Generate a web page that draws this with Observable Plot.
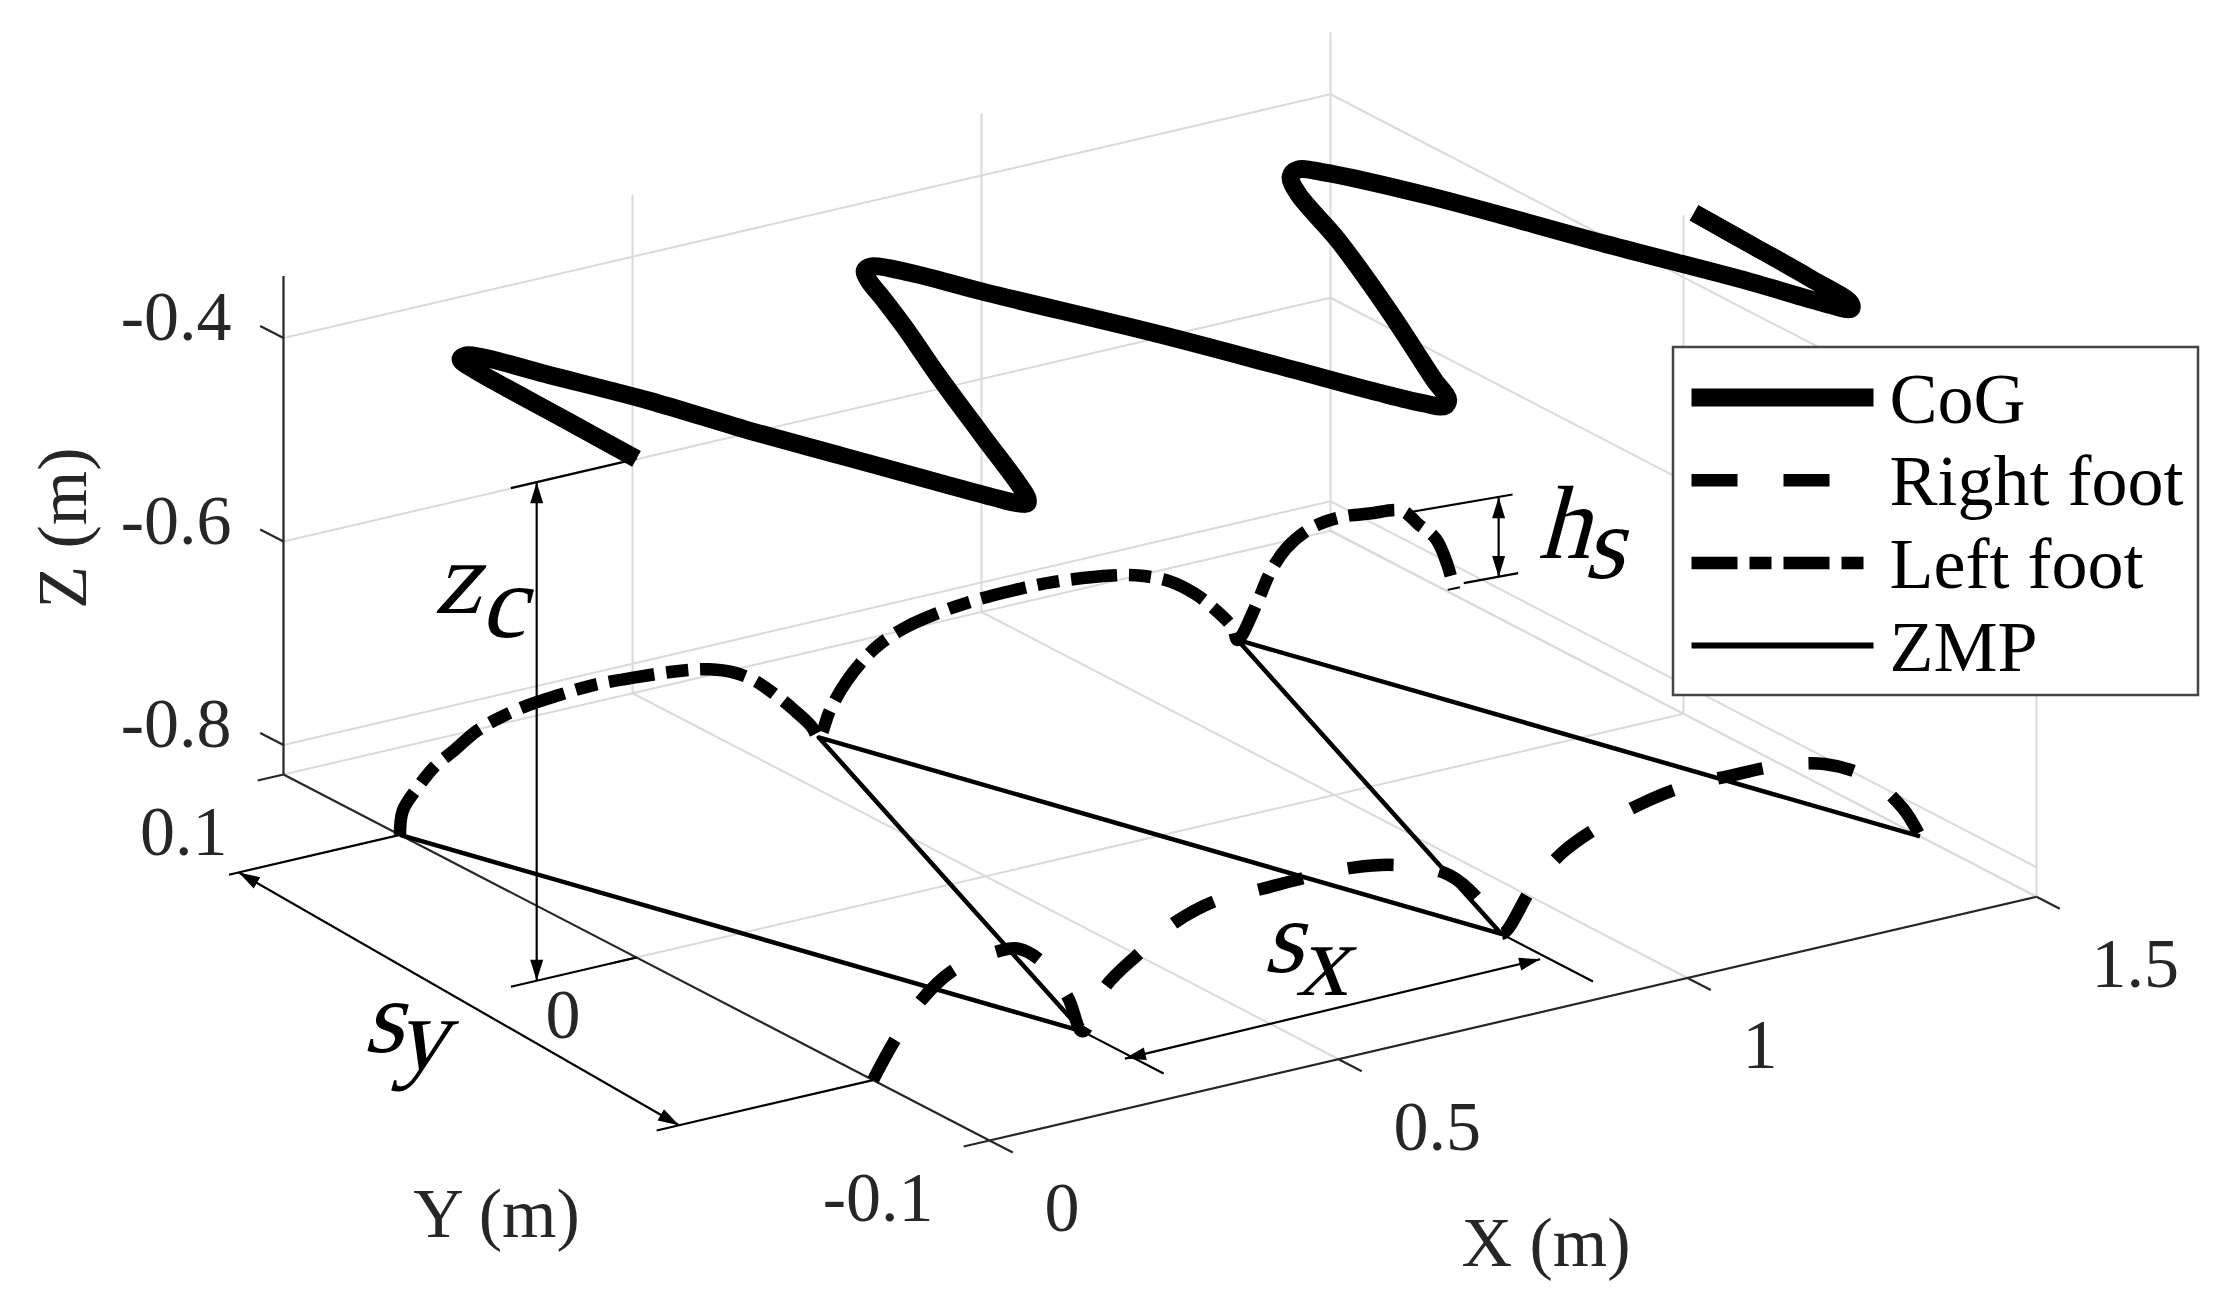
<!DOCTYPE html>
<html>
<head>
<meta charset="utf-8">
<script src="https://cdn.jsdelivr.net/npm/d3@7"></script>
<script src="https://cdn.jsdelivr.net/npm/@observablehq/plot@0.6"></script>
<style>
html, body { margin: 0; padding: 0; background: #fff; }
#chart svg { display: block; }
</style>
</head>
<body>
<div id="chart"></div>
<script>
// ---------------- axis limits & ticks ----------------
const xLim = [0, 1.5];
const yLim = [-0.1, 0.1];
const zLim = [-0.829, -0.339];
const xTicks = [0, 0.5, 1, 1.5];
const yTicks = [-0.1, 0, 0.1];
const zTicks = [-0.8, -0.6, -0.4];
const xTickLabels = ["0", "0.5", "1", "1.5"];
const yTickLabels = ["-0.1", "0", "0.1"];
const zTickLabels = ["-0.8", "-0.6", "-0.4"];
const axisTitles = ["X (m)", "Y (m)", "Z (m)"];

// ---------------- series ----------------
const seriesNames = ["CoG", "Right foot", "Left foot", "ZMP"];
const groundZ = -0.829;
const cogZ = -0.339;
const cogX = [0,0.004,0.007,0.010,0.016,0.028,0.041,0.072,0.123,0.165,0.209,0.255,0.280,0.292,0.302,0.312,0.330,0.388,0.460,0.516,0.550,0.570,0.585,0.600,0.626,0.663,0.752,0.812,0.860,0.884,0.900,0.915,0.940,1.027,1.111,1.160,1.185,1.205,1.225,1.284,1.368,1.439,1.470,1.487,1.497,1.505,1.510,1.515];
const cogY = [0,0.020,0.038,0.048,0.053,0.054,0.052,0.040,0.021,0.001,-0.017,-0.036,-0.046,-0.050,-0.051,-0.049,-0.043,-0.021,0.006,0.026,0.039,0.047,0.051,0.052,0.046,0.032,0.002,-0.021,-0.040,-0.048,-0.051,-0.049,-0.040,-0.010,0.021,0.042,0.049,0.051,0.048,0.030,-0.004,-0.031,-0.045,-0.050,-0.048,-0.035,-0.018,0.000];

const zmpX = [0, 0.3, 0.6, 0.9, 1.2, 1.5];
const zmpY = [0.067, -0.067, 0.067, -0.067, 0.067, -0.067];

const rightFootY = -0.067;
const rightFootX = [0,0.029,0.064,0.113,0.178,0.208,0.24,0.279,0.3, 0.332,0.382,0.433,0.492,0.558,0.624,0.688,0.753,0.825,0.876,0.9, 0.945,0.988,1.044,1.102,1.164,1.226,1.292,1.363,1.425,1.476,1.5];
const rightFootZ = [-0.829,-0.797,-0.765,-0.740,-0.731,-0.733,-0.750,-0.792,-0.829, -0.791,-0.765,-0.743,-0.731,-0.730,-0.729,-0.730,-0.738,-0.759,-0.798,-0.829, -0.790,-0.763,-0.745,-0.733,-0.726,-0.726,-0.727,-0.736,-0.759,-0.798,-0.829];

const leftFootY = 0.067;
const leftFootX = [0,0.004,0.026,0.051,0.076,0.111,0.141,0.182,0.227,0.277,0.337,0.403,0.443,0.479,0.509,0.539,0.564,0.589,0.6, 0.616,0.640,0.681,0.723,0.771,0.825,0.878,0.937,1.020,1.062,1.103,1.139,1.169,1.193,1.2, 1.228,1.246,1.27,1.305,1.347,1.389,1.436,1.458,1.484,1.501,1.51];
const leftFootZ = [-0.829,-0.806,-0.786,-0.769,-0.759,-0.744,-0.737,-0.731,-0.728,-0.726,-0.728,-0.732,-0.737,-0.746,-0.759,-0.778,-0.796,-0.816,-0.829, -0.805,-0.780,-0.754,-0.741,-0.734,-0.730,-0.729,-0.730,-0.737,-0.744,-0.756,-0.774,-0.795,-0.816,-0.829, -0.797,-0.771,-0.750,-0.736,-0.732,-0.735,-0.740,-0.756,-0.775,-0.804,-0.829];

// ---------------- dimension annotations (3D) ----------------
const annotations = [
  {name: "zc", base: "z", sub: "c", from: [-0.143, 0, -0.829], to: [-0.143, 0, -0.339],
   ext: [[[0, 0, -0.829], [-0.18, 0, -0.829]], [[0, 0, -0.339], [-0.18, 0, -0.339]]]},
  {name: "sy", base: "s", sub: "y", from: [-0.231, 0.067, -0.829], to: [-0.278, -0.067, -0.829],
   ext: [[[0, 0.067, -0.829], [-0.245, 0.067, -0.829]], [[0, -0.067, -0.829], [-0.31, -0.067, -0.829]]]},
  {name: "sx", base: "s", sub: "x", from: [0.29, -0.081, -0.829], to: [0.89, -0.080, -0.829],
   ext: [[[0.3, -0.067, -0.829], [0.3, -0.090, -0.829]], [[0.9, -0.067, -0.829], [0.9, -0.093, -0.829]]]},
  {name: "hs", base: "h", sub: "s", from: [1.574, 0.067, -0.827], to: [1.574, 0.067, -0.7485],
   ext: [[[1.45, 0.067, -0.743], [1.594, 0.067, -0.749]], [[1.524, 0.067, -0.825], [1.602, 0.067, -0.8276]]]}
];

// ---------------- view (orthographic projection of the axes box) ----------------
const W = 2233, H = 1298;
const ORIGIN = [283, 774];          // screen position of (xmin, ymax, zmin)
const EX = [698, -162.5];            // screen vector per unit x
const EY = [-3530, -1830];           // screen vector per unit y
const EZ = [0, -1017.5];             // screen vector per unit z
function P(x, y, z) {
  const dx = x - xLim[0], dy = y - yLim[1], dz = z - zLim[0];
  return [ORIGIN[0] + EX[0]*dx + EY[0]*dy + EZ[0]*dz,
          ORIGIN[1] + EX[1]*dx + EY[1]*dy + EZ[1]*dz];
}
const seg = (a, b) => { const p = P(...a), q = P(...b); return {x1: p[0], y1: p[1], x2: q[0], y2: q[1]}; };

// ---------------- box grid & axes ----------------
const [x0, x1] = xLim, [y0, y1] = yLim, [z0, z1] = zLim;
const grid = [];
xTicks.filter(v => v > x0).forEach(v => grid.push(seg([v, y1, z0], [v, y1, z1])));
zTicks.forEach(v => grid.push(seg([x0, y1, v], [x1, y1, v])));
grid.push(seg([x0, y1, z0], [x1, y1, z0]));
yTicks.filter(v => v < y1).forEach(v => grid.push(seg([x1, v, z0], [x1, v, z1])));
zTicks.forEach(v => grid.push(seg([x1, y0, v], [x1, y1, v])));
grid.push(seg([x1, y0, z0], [x1, y1, z0]));
xTicks.filter(v => v > x0).forEach(v => grid.push(seg([v, y0, z0], [v, y1, z0])));
yTicks.filter(v => v > y0 && v < y1).forEach(v => grid.push(seg([x0, v, z0], [x1, v, z0])));

const axes = [
  seg([x0, y1, z0], [x0, y1, z1]),
  seg([x0, y0, z0], [x0, y1, z0]),
  seg([x0, y0, z0], [x1, y0, z0])
];
const tickLenY = 0.0066, tickLenX = 0.037;
const tickSegs = [
  ...zTicks.map(v => seg([x0, y1, v], [x0, y1 + tickLenY, v])),
  ...yTicks.map(v => seg([x0, v, z0], [x0 - tickLenX, v, z0])),
  ...xTicks.map(v => seg([v, y0, z0], [v, y0 - tickLenY, z0]))
];
const zLabelPts = zTicks.map((v, i) => { const p = P(x0, y1, v); return {x: p[0], y: p[1], t: zTickLabels[i]}; });
const yLabelPts = yTicks.map((v, i) => { const p = P(x0, v, z0); return {x: p[0], y: p[1], t: yTickLabels[i]}; });
const xLabelPts = xTicks.map((v, i) => { const p = P(v, y0, z0); return {x: p[0], y: p[1], t: xTickLabels[i]}; });

// ---------------- projected series ----------------
const cog = cogX.map((x, i) => P(x, cogY[i], cogZ));
const zmp = zmpX.map((x, i) => P(x, zmpY[i], groundZ));
const rightFoot = rightFootX.map((x, i) => P(x, rightFootY, rightFootZ[i]));
const leftFoot = leftFootX.map((x, i) => P(x, leftFootY, leftFootZ[i]));

// ---------------- annotation geometry ----------------
const annLines = [], annHeads = [], annText = [];
const labelStyle = {
  zc: {off: [-103, -118], subDx: 6, subDy: 24},
  sy: {off: [-96, 53], subDx: -4, subDy: 17},
  sx: {off: [-70, -37], subDx: -1, subDy: 23},
  hs: {off: [39, 21], subDx: -1, subDy: 20}
};
const headLen = 21, headHalf = 6.5;
annotations.forEach((a, k) => {
  annLines.push(seg(a.from, a.to));
  a.ext.forEach(e => annLines.push(seg(e[0], e[1])));
  const A = P(...a.from), B = P(...a.to);
  [[B, A], [A, B]].forEach(([tip, other], j) => {
    const dx = tip[0] - other[0], dy = tip[1] - other[1], L = Math.hypot(dx, dy);
    const ux = dx / L, uy = dy / L;
    const bx = tip[0] - ux * headLen, by = tip[1] - uy * headLen;
    const id = k * 2 + j;
    annHeads.push({x: tip[0], y: tip[1], id});
    annHeads.push({x: bx - uy * headHalf, y: by + ux * headHalf, id});
    annHeads.push({x: bx + uy * headHalf, y: by - ux * headHalf, id});
  });
  const M = [(A[0] + B[0]) / 2, (A[1] + B[1]) / 2];
  const s = labelStyle[a.name];
  annText.push({x: M[0] + s.off[0], y: M[1] + s.off[1], t: a.base, sub: a.sub, subDx: s.subDx, subDy: s.subDy});
});

const titlePts = [
  (() => { const p = P((x0 + x1) / 2, y0, z0); return {x: p[0] + 33, y: p[1] + 225, t: axisTitles[0], r: 0}; })(),
  (() => { const p = P(x0, (y0 + y1) / 2, z0); return {x: p[0] - 140, y: p[1] + 257, t: axisTitles[1], r: 0}; })(),
  (() => { const p = P(x0, y1, (z0 + z1) / 2); return {x: p[0] - 220, y: p[1] + 3, t: axisTitles[2], r: -90}; })()
];

// ---------------- styles ----------------
const serif = "'Liberation Serif', 'Times New Roman', serif";
const annFontSize = 104;
const styles = {
  "CoG": {stroke: "#000", strokeWidth: 18, strokeDasharray: null},
  "Right foot": {stroke: "#000", strokeWidth: 12.5, strokeDasharray: "46,46"},
  "Left foot": {stroke: "#000", strokeWidth: 12.5, strokeDasharray: "46,12,22,12"},
  "ZMP": {stroke: "#000", strokeWidth: 4.5, strokeDasharray: null}
};
const LG = {x1: 1673, x2: 2198, y1: 347, y2: 695, lineX1: 1691, lineX2: 1873, textX: 1889, rowY0: 397, rowStep: 82.7, base: 25};
const legendRows = seriesNames.map((n, i) => ({n, y: LG.rowY0 + i * LG.rowStep}));

const lineOpts = (name, w) => {
  const s = styles[name];
  const o = {stroke: s.stroke, strokeWidth: w ?? s.strokeWidth, strokeLinecap: "butt", strokeLinejoin: "round"};
  if (s.strokeDasharray) o.strokeDasharray = s.strokeDasharray;
  return o;
};

const chart = Plot.plot({
  width: W, height: H, margin: 0,
  x: {domain: [0, W], range: [0, W], axis: null},
  y: {domain: [0, H], range: [0, H], axis: null},
  style: {background: "#fff"},
  marks: [
    Plot.link(grid, {x1: "x1", y1: "y1", x2: "x2", y2: "y2", stroke: "#dadada", strokeWidth: 2}),
    Plot.link(axes, {x1: "x1", y1: "y1", x2: "x2", y2: "y2", stroke: "#262626", strokeWidth: 2.2}),
    Plot.link(tickSegs, {x1: "x1", y1: "y1", x2: "x2", y2: "y2", stroke: "#262626", strokeWidth: 2.2}),
    Plot.line(zmp, {x: d => d[0], y: d => d[1], ...lineOpts("ZMP")}),
    Plot.line(rightFoot, {x: d => d[0], y: d => d[1], curve: "catmull-rom", ...lineOpts("Right foot")}),
    Plot.line(leftFoot, {x: d => d[0], y: d => d[1], curve: "catmull-rom", ...lineOpts("Left foot")}),
    Plot.line(cog, {x: d => d[0], y: d => d[1], curve: "catmull-rom", ...lineOpts("CoG")}),
    Plot.link(annLines, {x1: "x1", y1: "y1", x2: "x2", y2: "y2", stroke: "#000", strokeWidth: 2.2}),
    Plot.line(annHeads, {x: "x", y: "y", z: "id", fill: "#000", stroke: "none"}),
    Plot.text(annText, {x: "x", y: "y", text: "t", fontFamily: serif, fontSize: annFontSize,
      textAnchor: "start", lineAnchor: "bottom", fill: "#000"}),
    Plot.text(zLabelPts, {x: "x", y: "y", text: "t", dx: -52, dy: -20, textAnchor: "end", fontFamily: serif, fontSize: 70, fill: "#262626"}),
    Plot.text(yLabelPts, {x: "x", y: "y", text: "t", dx: -56, dy: 58, textAnchor: "end", fontFamily: serif, fontSize: 70, fill: "#262626"}),
    Plot.text(xLabelPts, {x: "x", y: "y", text: "t", dx: 55, dy: 68, textAnchor: "start", fontFamily: serif, fontSize: 70, fill: "#262626"}),
    Plot.text(titlePts, {x: "x", y: "y", text: "t", rotate: "r", textAnchor: "middle", fontFamily: serif, fontSize: 70, fill: "#262626"}),
    Plot.rect([LG], {x1: d => d.x1, x2: d => d.x2, y1: d => d.y1, y2: d => d.y2, fill: "#fff", stroke: "#444", strokeWidth: 2.5}),
    ...legendRows.map(r => Plot.link([r], {x1: () => LG.lineX1, x2: () => LG.lineX2, y1: d => d.y, y2: d => d.y,
      ...lineOpts(r.n, r.n === "ZMP" ? 6 : undefined)})),
    Plot.text(legendRows, {x: () => LG.textX, y: d => d.y + LG.base, text: "n", textAnchor: "start", lineAnchor: "bottom",
      fontFamily: serif, fontSize: 72, fill: "#000"})
  ]
});

// slanted serif letters with subscripts for the dimension labels
const annNodes = Array.from(chart.querySelectorAll("text")).filter(t => {
  const g = t.closest("[font-size]");
  return g && parseFloat(g.getAttribute("font-size")) === annFontSize;
});
annNodes.forEach((t, k) => {
  const d = annText[k];
  if (!d) return;
  let tr = t.getAttribute("transform");
  if (!tr) {
    const x = parseFloat(t.getAttribute("x")) || 0, y = parseFloat(t.getAttribute("y")) || 0;
    t.removeAttribute("x"); t.removeAttribute("y");
    tr = `translate(${x},${y})`;
  }
  t.setAttribute("transform", tr + " skewX(-15)");
  const ts = document.createElementNS("http://www.w3.org/2000/svg", "tspan");
  ts.setAttribute("dx", d.subDx);
  ts.setAttribute("dy", d.subDy);
  ts.textContent = d.sub;
  t.appendChild(ts);
});
document.getElementById("chart").appendChild(chart);
</script>
</body>
</html>
